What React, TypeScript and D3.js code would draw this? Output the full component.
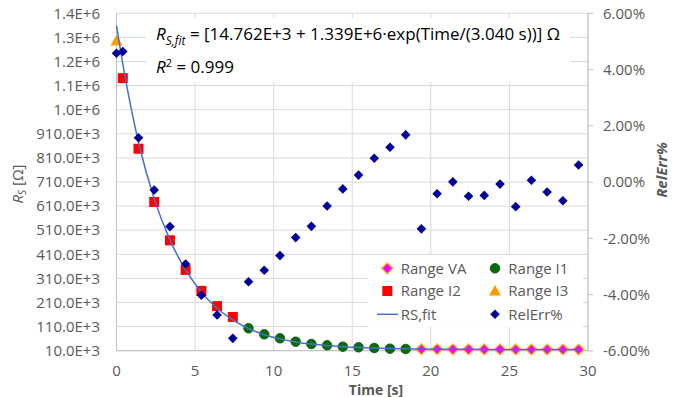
import React, { useRef, useEffect } from 'react';
import * as d3 from 'd3';

// Range I3 (triangle)
const timeI3 = [0];
const rsI3 = [1295000];
// Range I2 (squares)
const timeI2 = [0.4, 1.4, 2.4, 3.4, 4.4, 5.4, 6.4, 7.4];
const rsI2 = [1141000, 848000, 627000, 468000, 345000, 258000, 195000, 150000];
// Range I1 (circles)
const timeI1 = [8.4, 9.4, 10.4, 11.4, 12.4, 13.4, 14.4, 15.4, 16.4, 17.4, 18.4];
const rsI1 = [103000, 78000, 61500, 47300, 37800, 32400, 26600, 24100, 21200, 18300, 17000];
// Range VA (diamonds)
const timeVA = [19.4, 20.4, 21.4, 22.4, 23.4, 24.4, 25.4, 26.4, 27.4, 28.4, 29.4];
const rsVA = [16200, 16000, 15800, 15600, 15400, 15300, 15100, 15000, 14900, 14900, 14800];
// RS,fit line
const timeFit = [0, 0.4, 1.4, 2.4, 3.4, 4.4, 5.4, 6.4, 7.4, 8.4, 9.4, 10.4, 11.4, 12.4, 13.4, 14.4,
  15.4, 16.4, 17.4, 18.4, 19.4, 20.4, 21.4, 22.4, 23.4, 24.4, 25.4, 26.4, 27.4, 28.4, 29.4];
const rsFit = [1358000, 1200000, 875000, 640000, 470000, 345000, 253000, 186000, 138000, 102000,
  76500, 59000, 46500, 37400, 31100, 26500, 23200, 20900, 19200, 17900, 17000, 16400, 15900,
  15600, 15400, 15200, 15100, 15000, 14900, 14900, 14800];
// RelErr% (secondary axis, percent)
const timeErr = timeFit;
const relErr = [4.58, 4.64, 1.58, -0.28, -1.58, -2.91, -4.02, -4.72, -5.55, -3.54, -3.13, -2.61,
  -1.97, -1.57, -0.85, -0.24, 0.25, 0.85, 1.24, 1.68, -1.66, -0.41, 0.01, -0.5, -0.47, -0.07,
  -0.87, 0.07, -0.35, -0.66, 0.61];

const xTicks = [0, 5, 10, 15, 20, 25, 30];
const yLeftTicks = d3.range(10000, 1410001, 100000);
const yRightTicks = [-6, -4, -2, 0, 2, 4, 6];

const FONT = '"Open Sans", sans-serif';
const GREY = '#595959';

const diamond = (r: number) => `M0,${-r}L${r},0L0,${r}L${-r},0Z`;
const triangle = 'M0,-6L6,4.5L-6,4.5Z';

export default function App() {
  const ref = useRef<SVGSVGElement>(null);

  useEffect(() => {
    const width = 677;
    const height = 397;
    const svg = d3.select(ref.current);
    svg.selectAll('*').remove();

    const x = d3.scaleLinear().domain([0, 30]).range([116.5, 588]);
    const yL = d3.scaleLinear().domain([10000, 1410000]).range([350.7, 13.3]);
    const yR = d3.scaleLinear().domain([-6, 6]).range([351, 13.3]);

    svg.attr('width', width).attr('height', height);
    svg.append('rect').attr('width', width).attr('height', height).attr('fill', '#fff');

    // gridlines
    svg.append('g').selectAll('line').data(yLeftTicks).join('line')
      .attr('x1', x(0)).attr('x2', x(30))
      .attr('y1', d => yL(d)).attr('y2', d => yL(d))
      .attr('stroke', '#d9d9d9').attr('stroke-width', 1);
    svg.append('g').selectAll('line').data(xTicks).join('line')
      .attr('x1', d => x(d)).attr('x2', d => x(d))
      .attr('y1', yL(1410000)).attr('y2', yL(10000))
      .attr('stroke', '#d9d9d9').attr('stroke-width', 1);

    // axis lines
    const axisCol = '#bfbfbf';
    svg.append('line').attr('x1', x(0)).attr('x2', x(0)).attr('y1', yL(1410000)).attr('y2', yL(10000)).attr('stroke', axisCol);
    svg.append('line').attr('x1', x(0)).attr('x2', x(30)).attr('y1', yL(10000)).attr('y2', yL(10000)).attr('stroke', axisCol);
    svg.append('line').attr('x1', x(30)).attr('x2', x(30)).attr('y1', yR(6)).attr('y2', yR(-6)).attr('stroke', axisCol);
    svg.append('g').selectAll('line').data(yRightTicks).join('line')
      .attr('x1', x(30)).attr('x2', x(30) + 5)
      .attr('y1', d => yR(d)).attr('y2', d => yR(d))
      .attr('stroke', axisCol);

    // tick labels
    const fmtL = (v: number) => v < 1e6 ? (v / 1000).toFixed(1) + 'E+3' : (v / 1e6).toFixed(1) + 'E+6';
    svg.append('g').selectAll('text').data(yLeftTicks).join('text')
      .attr('x', 100).attr('y', d => yL(d)).attr('dy', '0.35em')
      .attr('text-anchor', 'end').attr('font-family', FONT).attr('font-size', 15).attr('fill', GREY)
      .text(fmtL);
    svg.append('g').selectAll('text').data(yRightTicks).join('text')
      .attr('x', 603).attr('y', d => yR(d)).attr('dy', '0.35em')
      .attr('font-family', FONT).attr('font-size', 15).attr('fill', GREY)
      .text(d => d.toFixed(2) + '%');
    svg.append('g').selectAll('text').data(xTicks).join('text')
      .attr('x', d => x(d)).attr('y', 375.5)
      .attr('text-anchor', 'middle').attr('font-family', FONT).attr('font-size', 15).attr('fill', GREY)
      .text(d => d);

    // axis titles
    svg.append('text').attr('x', 376).attr('y', 394.5).attr('text-anchor', 'middle')
      .attr('font-family', FONT).attr('font-size', 14).attr('font-weight', 'bold').attr('fill', GREY)
      .text('Time [s]');
    const yt = svg.append('text').attr('transform', 'translate(23,184) rotate(-90)')
      .attr('text-anchor', 'middle').attr('font-family', FONT).attr('font-size', 15).attr('fill', GREY);
    yt.append('tspan').attr('font-style', 'italic').text('R');
    yt.append('tspan').attr('font-style', 'italic').attr('font-size', 10).attr('dy', 3).text('S');
    yt.append('tspan').attr('dy', -3).text(' [Ω]');
    svg.append('text').attr('transform', 'translate(667,170) rotate(-90)')
      .attr('text-anchor', 'middle').attr('font-family', FONT).attr('font-size', 15)
      .attr('font-weight', 'bold').attr('font-style', 'italic').attr('fill', GREY)
      .text('RelErr%');

    // equation box
    svg.append('rect').attr('x', 146).attr('y', 18).attr('width', 424).attr('height', 64).attr('fill', '#fff');
    const eq = svg.append('text').attr('x', 156).attr('y', 40)
      .attr('font-family', FONT).attr('font-size', 17).attr('fill', '#000');
    eq.append('tspan').attr('font-style', 'italic').text('R');
    eq.append('tspan').attr('font-style', 'italic').attr('font-size', 12).attr('dy', 5).text('S,fit');
    eq.append('tspan').attr('dy', -5).text(' = [14.762E+3 + 1.339E+6·exp(Time/(3.040 s))] Ω');
    const r2 = svg.append('text').attr('x', 156).attr('y', 73)
      .attr('font-family', FONT).attr('font-size', 17).attr('fill', '#000');
    r2.append('tspan').attr('font-style', 'italic').text('R');
    r2.append('tspan').attr('font-size', 11).attr('dy', -6).text('2');
    r2.append('tspan').attr('dy', 6).text(' = 0.999');

    // series markers
    svg.append('g').selectAll('path').data(d3.zip(timeVA, rsVA)).join('path')
      .attr('transform', d => `translate(${x(d[0])},${yL(d[1])})`)
      .attr('d', diamond(5.5)).attr('fill', '#ff00ff').attr('stroke', '#ffc000').attr('stroke-width', 1.2);
    svg.append('g').selectAll('circle').data(d3.zip(timeI1, rsI1)).join('circle')
      .attr('cx', d => x(d[0])).attr('cy', d => yL(d[1])).attr('r', 4.8)
      .attr('fill', '#0a6b0a').attr('stroke', '#0b4f0b').attr('stroke-width', 0.8);
    svg.append('g').selectAll('rect').data(d3.zip(timeI2, rsI2)).join('rect')
      .attr('x', d => x(d[0]) - 5).attr('y', d => yL(d[1]) - 5).attr('width', 10).attr('height', 10)
      .attr('fill', '#ff0000');
    svg.append('g').selectAll('path').data(d3.zip(timeI3, rsI3)).join('path')
      .attr('transform', d => `translate(${x(d[0])},${yL(d[1])})`)
      .attr('d', triangle).attr('fill', '#ff9900');

    // fit line
    const line = d3.line<[number, number]>().x(d => x(d[0])).y(d => yL(d[1])).curve(d3.curveMonotoneX);
    svg.append('path').datum(d3.zip(timeFit, rsFit) as [number, number][])
      .attr('d', line).attr('fill', 'none').attr('stroke', '#4472c4').attr('stroke-width', 1.5);

    // relative error
    svg.append('g').selectAll('path').data(d3.zip(timeErr, relErr)).join('path')
      .attr('transform', d => `translate(${x(d[0])},${yR(d[1])})`)
      .attr('d', diamond(4.8)).attr('fill', '#000099');

    // legend
    svg.append('rect').attr('x', 368).attr('y', 255).attr('width', 215).attr('height', 72).attr('fill', '#fff');
    const lg = svg.append('g').attr('font-family', FONT).attr('font-size', 15).attr('fill', GREY);
    const rows = [268.3, 291, 314.3];
    const c1 = 387.3, c2 = 495;
    lg.append('path').attr('transform', `translate(${c1},${rows[0]})`).attr('d', diamond(5.5))
      .attr('fill', '#ff00ff').attr('stroke', '#ffc000').attr('stroke-width', 1.2);
    lg.append('circle').attr('cx', c2).attr('cy', rows[0]).attr('r', 4.8)
      .attr('fill', '#0a6b0a').attr('stroke', '#0b4f0b').attr('stroke-width', 0.8);
    lg.append('rect').attr('x', c1 - 5).attr('y', rows[1] - 5).attr('width', 10).attr('height', 10).attr('fill', '#ff0000');
    lg.append('path').attr('transform', `translate(${c2},${rows[1]})`).attr('d', triangle).attr('fill', '#ff9900');
    lg.append('line').attr('x1', 377).attr('x2', 398).attr('y1', rows[2]).attr('y2', rows[2])
      .attr('stroke', '#4472c4').attr('stroke-width', 1.5);
    lg.append('path').attr('transform', `translate(${c2},${rows[2]})`).attr('d', diamond(4.8)).attr('fill', '#000099');
    const labels: [string, number, number][] = [
      ['Range VA', 400.7, rows[0]], ['Range I1', 508.3, rows[0]],
      ['Range I2', 400.7, rows[1]], ['Range I3', 508.3, rows[1]],
      ['RS,fit', 400.7, rows[2]], ['RelErr%', 508.3, rows[2]],
    ];
    lg.selectAll('text').data(labels).join('text')
      .attr('x', d => d[1]).attr('y', d => d[2]).attr('dy', '0.35em').text(d => d[0]);
  }, []);

  return (
    <svg ref={ref} style={{ position: 'absolute', left: 0, top: 0, display: 'block' }} />
  );
}
